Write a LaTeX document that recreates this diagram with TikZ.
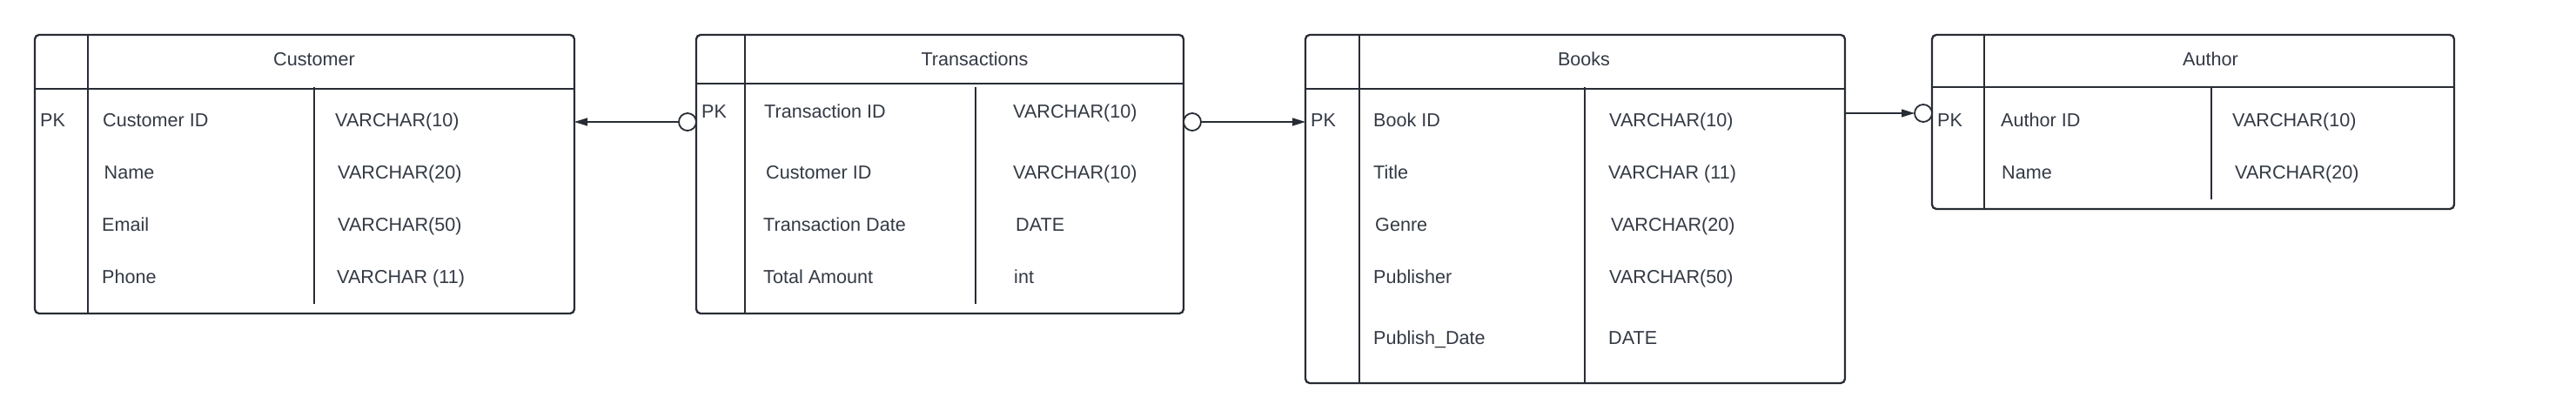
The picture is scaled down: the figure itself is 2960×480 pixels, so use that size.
\documentclass[tikz,border=0pt]{standalone}
\usepackage{fontspec}
\setmainfont{Liberation Sans}
\usetikzlibrary{arrows.meta}
\definecolor{lc}{RGB}{40,44,52}
\definecolor{tc}{RGB}{52,58,68}
\newcommand\tblfont{\fontsize{21.6bp}{26bp}\selectfont}
\tikzset{
  tbl/.style={draw=lc, line width=2.3bp, rounded corners=5bp, inner sep=0pt, outer sep=0pt, anchor=north west},
  sepline/.style={draw=lc, line width=2.3bp},
  midline/.style={draw=lc, line width=1.8bp},
  txt/.style={text=tc, inner sep=0pt, text height=15bp, text depth=0bp, anchor=west, font=\tblfont},
  ttl/.style={txt, anchor=center},
  circ/.style={circle, draw=lc, line width=1.8bp, fill=white, minimum size=20bp, inner sep=0pt, outer sep=0pt},
  conn/.style={draw=lc, line width=1.2bp, -{Triangle[length=15bp,width=9bp]}},
}
\begin{document}
\begin{tikzpicture}[x=1bp,y=-1bp]
\useasboundingbox[fill=white] (0,0) rectangle (2960,480);

% ---------------- Customer ----------------
\node[tbl, minimum width=620bp, minimum height=320bp] (cust) at (40,40) {};
\draw[sepline] (101,40) -- (101,360);
\draw[sepline] (40,102) -- (660,102);
\draw[midline] (361,100) -- (361,349);
\node[ttl] (custT) at (361,68) {Customer};
\node[txt] (custPK) at (46,138) {PK};
\node[txt] (custN1) at (118,138) {Customer ID};
\node[txt] (custN2) at (119.5,198) {Name};
\node[txt] (custN3) at (117,258) {Email};
\node[txt] (custN4) at (117,318) {Phone};
\node[txt] (custT1) at (385,138) {VARCHAR(10)};
\node[txt] (custT2) at (388,198) {VARCHAR(20)};
\node[txt] (custT3) at (388,258) {VARCHAR(50)};
\node[txt] (custT4) at (387,318) {VARCHAR (11)};

% ---------------- Transactions ----------------
\node[tbl, minimum width=560bp, minimum height=320bp] (tran) at (800,40) {};
\draw[sepline] (856,40) -- (856,360);
\draw[sepline] (800,96) -- (1360,96);
\draw[midline] (1121,100) -- (1121,349);
\node[ttl] (tranT) at (1120,68) {Transactions};
\node[txt] (tranPK) at (806,128) {PK};
\node[txt] (tranN1) at (878,128) {Transaction ID};
\node[txt] (tranN2) at (880,198) {Customer ID};
\node[txt] (tranN3) at (877,258) {Transaction Date};
\node[txt] (tranN4) at (877,318) {Total Amount};
\node[txt] (tranT1) at (1164,128) {VARCHAR(10)};
\node[txt] (tranT2) at (1164,198) {VARCHAR(10)};
\node[txt] (tranT3) at (1167,258) {DATE};
\node[txt] (tranT4) at (1165,318) {int};

% ---------------- Books ----------------
\node[tbl, minimum width=620bp, minimum height=400bp] (book) at (1500,40) {};
\draw[sepline] (1562,40) -- (1562,440);
\draw[sepline] (1500,102) -- (2120,102);
\draw[midline] (1821,100) -- (1821,440);
\node[ttl] (bookT) at (1820,68) {Books};
\node[txt] (bookPK) at (1506,138) {PK};
\node[txt] (bookN1) at (1578,138) {Book ID};
\node[txt] (bookN2) at (1578,198) {Title};
\node[txt] (bookN3) at (1580,258) {Genre};
\node[txt] (bookN4) at (1578,318) {Publisher};
\node[txt] (bookN5) at (1578,388) {Publish\_Date};
\node[txt] (bookT1) at (1849,138) {VARCHAR(10)};
\node[txt] (bookT2) at (1848,198) {VARCHAR (11)};
\node[txt] (bookT3) at (1851,258) {VARCHAR(20)};
\node[txt] (bookT4) at (1849,318) {VARCHAR(50)};
\node[txt] (bookT5) at (1848,388) {DATE};

% ---------------- Author ----------------
\node[tbl, minimum width=600bp, minimum height=200bp] (auth) at (2220,40) {};
\draw[sepline] (2280,40) -- (2280,240);
\draw[sepline] (2220,100) -- (2820,100);
\draw[midline] (2541,100) -- (2541,229);
\node[ttl] (authT) at (2540,68) {Author};
\node[txt] (authPK) at (2226,138) {PK};
\node[txt] (authN1) at (2299,138) {Author ID};
\node[txt] (authN2) at (2300,198) {Name};
\node[txt] (authT1) at (2565,138) {VARCHAR(10)};
\node[txt] (authT2) at (2568,198) {VARCHAR(20)};

% ---------------- Connectors ----------------
\node[circ] (c1) at (790,140) {};
\node[circ] (c2) at (1370,140) {};
\node[circ] (c3) at (2210,130) {};
\draw[conn] (c1.west) -- (c1.west -| cust.east);
\draw[conn] (c2.east) -- (c2.east -| book.west);
\draw[conn] (c3.west -| book.east) -- (c3.west);
\end{tikzpicture}
\end{document}
